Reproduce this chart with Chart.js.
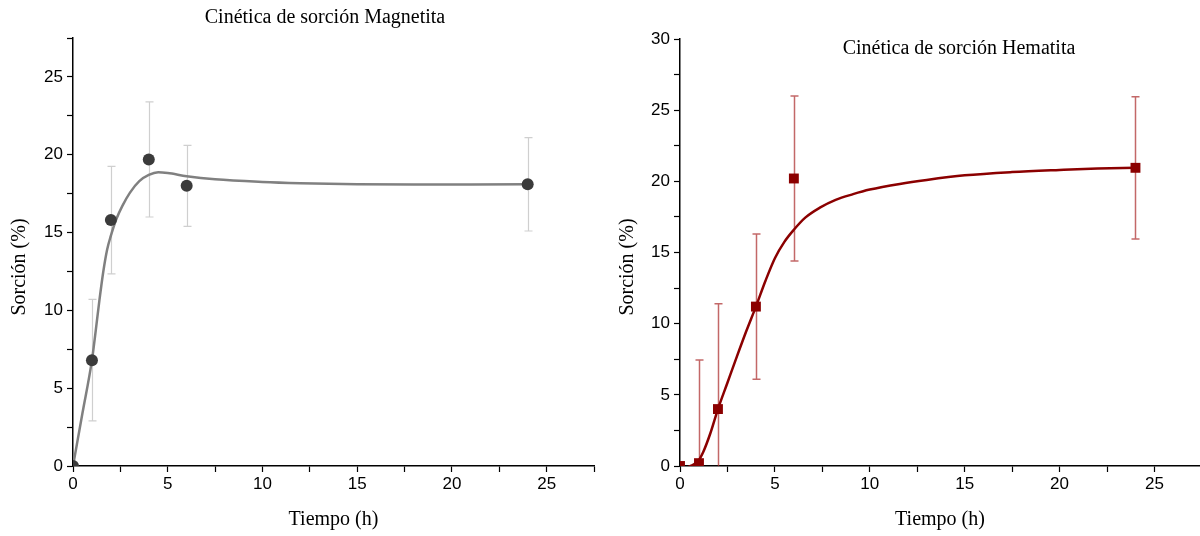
<!DOCTYPE html>
<html>
<head>
<meta charset="utf-8">
<script src="https://cdn.jsdelivr.net/npm/chart.js@4/dist/chart.umd.min.js"></script>
<style>
    body { margin: 0; background: #fff; }
    .wrap { display: flex; width: 1200px; height: 536px; }
    .box { position: relative; width: 600px; height: 536px; }
</style>
</head>
<body>
<div class="wrap">
    <div class="box"><canvas id="graph_1"></canvas></div>
    <div class="box"><canvas id="graph_2"></canvas></div>
</div>
<script>
// Magnetita: puntos experimentales + error
const tiemposMag = [0, 1, 2, 4, 6, 24];
const sorcionMag = [0, 6.8, 15.8, 19.7, 18.0, 18.1];
const errorMag = [0, 3.9, 3.45, 3.7, 2.6, 3.0];
// curva de ajuste
const ajusteMagX = [0, 0.5, 1, 1.2, 1.4, 1.6, 1.8, 2.0, 2.3, 2.6, 3.0, 3.5, 4.0, 4.5, 5, 6, 7.5, 10, 12, 15, 18, 21, 24];
const ajusteMagY = [0, 3.4, 6.8, 8.7, 10.7, 12.5, 13.9, 14.8, 15.9, 16.7, 17.55, 18.3, 18.7, 18.87, 18.82, 18.62, 18.42, 18.25, 18.17, 18.1, 18.08, 18.09, 18.1];

// Hematita
const tiemposHem = [0, 1, 2, 4, 6, 24];
const sorcionHem = [0, 0.2, 4.0, 11.2, 20.2, 20.95];
const errorHem = [0, 7.25, 7.4, 5.1, 5.8, 5.0];
const ajusteHemX = [0, 0.26, 0.56, 0.96, 1.23, 1.6, 2, 2.5, 3, 3.5, 4, 4.5, 5, 5.5, 6, 6.6, 7.37, 8.2, 9.12, 10, 11.58, 13, 15, 17.5, 20, 22, 24];
const ajusteHemY = [0, -0.12, 0, 0.35, 1.0, 2.3, 4.0, 5.85, 7.7, 9.5, 11.2, 13.0, 14.6, 15.75, 16.6, 17.45, 18.15, 18.7, 19.1, 19.42, 19.82, 20.1, 20.42, 20.65, 20.8, 20.9, 20.95];

// posiciones de las marcas de los ejes (cada 2.5, etiqueta cada 5)
const marcas = [0, 2.5, 5, 7.5, 10, 12.5, 15, 17.5, 20, 22.5, 25, 27.5, 30];

const toPoints = (xs, ys) => xs.map((x, i) => ({ x: x, y: ys[i] }));

/**
 * Barras de error verticales con tapas
 */
const barrasError = {
    id: 'barrasError',
    beforeDatasetsDraw(chart, args, opts) {
        const { ctx, chartArea, scales } = chart;
        ctx.save();
        ctx.beginPath();
        ctx.rect(chartArea.left, chartArea.top, chartArea.width, chartArea.height);
        ctx.clip();
        ctx.strokeStyle = opts.color;
        ctx.lineWidth = opts.width;
        opts.x.forEach((t, i) => {
            const e = opts.err[i];
            if (!e) return;
            const px = Math.round(scales.x.getPixelForValue(t)) + 0.5;
            const top = scales.y.getPixelForValue(opts.y[i] + e);
            const bot = scales.y.getPixelForValue(opts.y[i] - e);
            ctx.beginPath();
            ctx.moveTo(px, top);
            ctx.lineTo(px, bot);
            ctx.moveTo(px - opts.cap, top);
            ctx.lineTo(px + opts.cap, top);
            ctx.moveTo(px - opts.cap, bot);
            ctx.lineTo(px + opts.cap, bot);
            ctx.stroke();
        });
        ctx.restore();
    }
};

/**
 * Título del gráfico y título del eje Y
 */
const textos = {
    id: 'textos',
    afterDraw(chart, args, opts) {
        const ctx = chart.ctx;
        ctx.save();
        ctx.fillStyle = '#000';
        ctx.font = '20px "Liberation Serif", "Times New Roman", serif';
        ctx.textAlign = 'center';
        ctx.textBaseline = 'middle';
        ctx.fillText(opts.titulo, opts.tituloX, opts.tituloY);
        ctx.translate(opts.ejeX, opts.ejeY);
        ctx.rotate(-Math.PI / 2);
        ctx.fillText('Sorción (%)', 0, 0);
        ctx.restore();
    }
};

const ponerMarcas = (scale) => {
    scale.ticks = marcas.filter((v) => v <= scale.max).map((v) => ({ value: v }));
};

const ejes = (xMax, yMax, yWidth) => ({
    x: {
        type: 'linear',
        min: 0,
        max: xMax,
        afterFit: (s) => { s.height = 70; },
        afterBuildTicks: ponerMarcas,
        ticks: {
            autoSkip: false,
            maxRotation: 0,
            padding: 2,
            color: '#000',
            font: { family: '"Liberation Sans", Arial, sans-serif', size: 17 },
            callback: (v) => (v % 5 === 0 ? v : '')
        },
        grid: { drawOnChartArea: false, tickLength: 6, tickColor: '#000', tickWidth: 1.2 },
        border: { color: '#000', width: 1.5 },
        title: {
            display: true,
            text: 'Tiempo (h)',
            color: '#000',
            font: { family: '"Liberation Serif", "Times New Roman", serif', size: 20 },
            padding: { top: 4, bottom: 4 }
        }
    },
    y: {
        type: 'linear',
        min: 0,
        max: yMax,
        afterFit: (s) => { s.width = yWidth; },
        afterBuildTicks: ponerMarcas,
        ticks: {
            autoSkip: false,
            padding: 4,
            color: '#000',
            font: { family: '"Liberation Sans", Arial, sans-serif', size: 17 },
            callback: (v) => (v % 5 === 0 ? v : '')
        },
        grid: { drawOnChartArea: false, tickLength: 6, tickColor: '#000', tickWidth: 1.2 },
        border: { color: '#000', width: 1.5 }
    }
});

new Chart(document.getElementById('graph_1'), {
    type: 'scatter',
    data: {
        datasets: [
            {
                label: 'Magnetita',
                data: toPoints(tiemposMag, sorcionMag),
                pointRadius: 6,
                pointHoverRadius: 6,
                backgroundColor: '#3b3b3b',
                borderWidth: 0,
                showLine: false
            },
            {
                label: 'Ajuste',
                data: toPoints(ajusteMagX, ajusteMagY),
                showLine: true,
                cubicInterpolationMode: 'monotone',
                borderColor: '#808080',
                borderWidth: 2.5,
                pointRadius: 0
            }
        ]
    },
    options: {
        responsive: true,
        maintainAspectRatio: false,
        animation: false,
        layout: { autoPadding: false, padding: { top: 38, right: 6, left: 0, bottom: 0 } },
        scales: ejes(27.5, 27.5, 73),
        plugins: {
            legend: { display: false },
            tooltip: { enabled: false },
            barrasError: { x: tiemposMag, y: sorcionMag, err: errorMag, color: '#cfcfcf', width: 1.2, cap: 4 },
            textos: { titulo: 'Cinética de sorción Magnetita', tituloX: 325, tituloY: 18, ejeX: 20, ejeY: 267 }
        }
    },
    plugins: [barrasError, textos]
});

new Chart(document.getElementById('graph_2'), {
    type: 'scatter',
    data: {
        datasets: [
            {
                label: 'Hematita',
                data: toPoints(tiemposHem, sorcionHem),
                pointStyle: 'rect',
                pointRadius: 7,
                pointHoverRadius: 7,
                backgroundColor: '#8b0000',
                borderWidth: 0,
                showLine: false
            },
            {
                label: 'Ajuste',
                data: toPoints(ajusteHemX, ajusteHemY),
                showLine: true,
                cubicInterpolationMode: 'monotone',
                borderColor: '#8b0000',
                borderWidth: 2.5,
                pointRadius: 0
            }
        ]
    },
    options: {
        responsive: true,
        maintainAspectRatio: false,
        animation: false,
        layout: { autoPadding: false, padding: { top: 39, right: 0, left: 0, bottom: 0 } },
        scales: ejes(27.4, 30, 80),
        plugins: {
            legend: { display: false },
            tooltip: { enabled: false },
            barrasError: { x: tiemposHem, y: sorcionHem, err: errorHem, color: 'rgba(170,40,40,0.7)', width: 1.5, cap: 4 },
            textos: { titulo: 'Cinética de sorción Hematita', tituloX: 359, tituloY: 49, ejeX: 28, ejeY: 267 }
        }
    },
    plugins: [barrasError, textos]
});
</script>
</body>
</html>
